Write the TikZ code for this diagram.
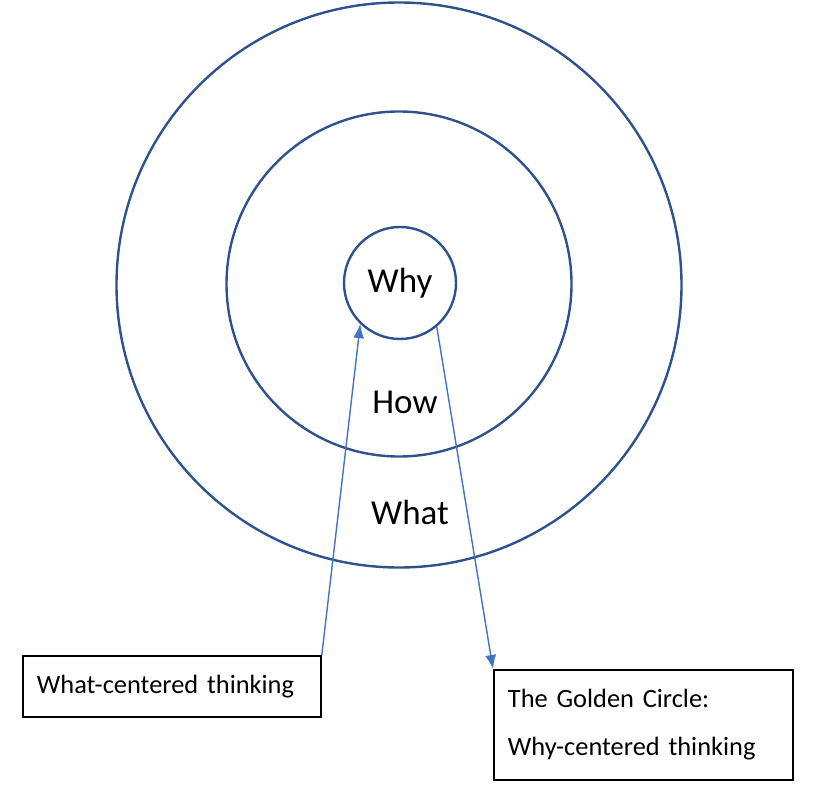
\documentclass[tikz,border=0pt]{standalone}
\usepackage{fontspec}
\setmainfont{Carlito}
\usetikzlibrary{arrows.meta}
\definecolor{ringblue}{HTML}{2F528F}
\definecolor{arrowblue}{HTML}{4472C4}
\begin{document}
\begin{tikzpicture}[x=1pt, y=-1pt,
  ring/.style={circle, draw=ringblue, line width=2.4pt, inner sep=0pt},
  pointer/.style={-{Latex[length=14pt,width=11pt]}, draw=arrowblue, fill=arrowblue, line width=1.4pt},
  textbox/.style={draw=black, line width=1.8pt, anchor=north west, align=left,
    inner xsep=14pt, font=\fontsize{26.4}{31.7}\selectfont}]
 \useasboundingbox (0,0) rectangle (819,799);
 % rings
 \node[ring, minimum size=565pt] (what) at (399,285) {};
 \node[ring, minimum size=345pt] (how) at (399,284) {};
 \node[ring, minimum size=112pt, font=\fontsize{35}{42}\selectfont] (why) at (400,283) {Why};
 \node[font=\fontsize{35}{42}\selectfont] (howlabel) at (405,402) {How};
 \node[font=\fontsize{35}{42}\selectfont] (whatlabel) at (410,512) {What};
 % boxes
 \node[textbox, text width=270pt, minimum height=61pt] (whatbox) at (22,655) {What-centered thinking};
 \node[textbox, text width=271pt, minimum height=110pt] (whybox) at (493,669)
   {The Golden Circle:\\[16pt]Why-centered thinking};
 % pointers
 \draw[pointer] (whatbox.north east) -- (why.226);
 \draw[pointer] (why.310) -- (whybox.north west);
\end{tikzpicture}
\end{document}
